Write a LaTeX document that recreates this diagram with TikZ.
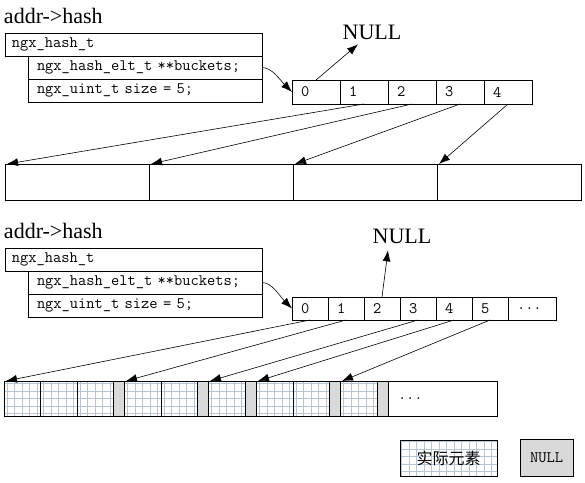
\documentclass[tikz,border=0pt]{standalone}
\usepackage{fontspec}
\setmainfont{Liberation Serif}
\newfontfamily\cjk{Noto Sans CJK SC}
\usetikzlibrary{arrows.meta}
\definecolor{gridblue}{RGB}{184,196,216}
\definecolor{nullgrey}{RGB}{217,217,217}
\begin{document}
\begin{tikzpicture}[x=1pt,y=-1pt,
  every node/.style={inner sep=0pt,outer sep=0pt},
  ttl/.style={font=\fontsize{22}{24}\selectfont,anchor=base west},
  nulltxt/.style={font=\fontsize{22}{24}\selectfont},
  mono/.style={font=\ttfamily\fontsize{16}{18}\selectfont},
  codebox/.style={mono,draw,line width=0.8pt,anchor=north west,minimum height=23pt,align=left},
  arrcell/.style={mono,draw,line width=0.8pt,anchor=north west,inner xsep=9pt,align=left},
  bigbox/.style={draw,line width=0.8pt,anchor=north west,minimum width=144pt,minimum height=36pt},
  gcell/.style={draw,line width=0.8pt,anchor=north west,minimum height=35pt,
    path picture={\draw[gridblue,line width=0.7pt] (path picture bounding box.south west) grid[step=7.5pt] (path picture bounding box.north east);}},
  ncell/.style={draw,line width=0.8pt,anchor=north west,minimum height=35pt,fill=nullgrey,minimum width=11pt},
  arr/.style={-{Latex[length=11pt,width=8pt]},line width=0.6pt}
]
\fill[white] (0,0) rectangle (585,482);
\useasboundingbox (0,0) rectangle (585,482);

% ---------- top section ----------
\node[ttl] (t1) at (4,23) {addr->hash};
\node[codebox,text width=243pt,inner xsep=7pt] (h1) at (5,33) {ngx\_hash\_t};
\node[codebox,text width=216pt,inner xsep=9pt] (bk1) at (28,56) {ngx\_hash\_elt\_t **buckets;};
\node[codebox,text width=216pt,inner xsep=9pt] (sz1) at (28,79) {ngx\_uint\_t size = 5;};

\node[arrcell,text width=30pt,minimum height=24pt] (a0) at (292,80) {0};
\node[arrcell,text width=30pt,minimum height=24pt] (a1) at (a0.north east) {1};
\node[arrcell,text width=30pt,minimum height=24pt] (a2) at (a1.north east) {2};
\node[arrcell,text width=30pt,minimum height=24pt] (a3) at (a2.north east) {3};
\node[arrcell,text width=30pt,minimum height=24pt] (a4) at (a3.north east) {4};

\node[nulltxt] (n1) at (372,32) {NULL};

\node[bigbox] (c0) at (5,164) {};
\node[bigbox] (c1) at (c0.north east) {};
\node[bigbox] (c2) at (c1.north east) {};
\node[bigbox] (c3) at (c2.north east) {};

\draw[arr] (bk1.east) .. controls +(10,0) and +(-12,-12) .. (a0.west);
\draw[arr] (a0.north) -- ([xshift=-14pt,yshift=-5pt]n1.south);
\draw[arr] (a1.south) -- ([xshift=2pt]c0.north west);
\draw[arr] (a2.south) -- ([xshift=2pt]c1.north west);
\draw[arr] (a3.south) -- ([xshift=2pt]c2.north west);
\draw[arr] (a4.south) -- ([xshift=2pt]c3.north west);

% ---------- bottom section ----------
\node[ttl] (t2) at (4,238) {addr->hash};
\node[codebox,text width=243pt,inner xsep=7pt] (h2) at (5,248) {ngx\_hash\_t};
\node[codebox,text width=216pt,inner xsep=9pt] (bk2) at (28,271) {ngx\_hash\_elt\_t **buckets;};
\node[codebox,text width=216pt,inner xsep=9pt] (sz2) at (28,294) {ngx\_uint\_t size = 5;};

\node[arrcell,text width=18pt,minimum height=23pt] (b0) at (292,297) {0};
\node[arrcell,text width=18pt,minimum height=23pt] (b1) at (b0.north east) {1};
\node[arrcell,text width=18pt,minimum height=23pt] (b2) at (b1.north east) {2};
\node[arrcell,text width=18pt,minimum height=23pt] (b3) at (b2.north east) {3};
\node[arrcell,text width=18pt,minimum height=23pt] (b4) at (b3.north east) {4};
\node[arrcell,text width=18pt,minimum height=23pt] (b5) at (b4.north east) {5};
\node[arrcell,text width=30pt,minimum height=23pt] (b6) at (b5.north east) {...};

\node[nulltxt] (n2) at (402,236) {NULL};

\node[gcell,minimum width=36pt] (g0) at (4,381) {};
\node[gcell,minimum width=37pt] (g1) at (40,381) {};
\node[gcell,minimum width=36pt] (g2) at (77,381) {};
\node[ncell] (g3) at (113,381) {};
\node[gcell,minimum width=37pt] (g4) at (124,381) {};
\node[gcell,minimum width=36pt] (g5) at (161,381) {};
\node[ncell] (g6) at (197,381) {};
\node[gcell,minimum width=37pt] (g7) at (208,381) {};
\node[ncell] (g8) at (245,381) {};
\node[gcell,minimum width=37pt] (g9) at (256,381) {};
\node[gcell,minimum width=36pt] (g10) at (293,381) {};
\node[ncell] (g11) at (329,381) {};
\node[gcell,minimum width=37pt] (g12) at (340,381) {};
\node[ncell] (g13) at (377,381) {};
\node[arrcell,minimum height=35pt,text width=89pt,inner xsep=10pt] (g14) at (388,381) {...};

\draw[arr] (bk2.east) .. controls +(10,0) and +(-12,-12) .. (b0.west);
\draw[arr] (b2.north) -- ([xshift=-14pt,yshift=-7pt]n2.south);
\draw[arr] (b0.south) -- ([xshift=2pt]g0.north west);
\draw[arr] (b1.south) -- ([xshift=2pt]g4.north west);
\draw[arr] (b3.south) -- ([xshift=2pt]g7.north west);
\draw[arr] (b4.south) -- ([xshift=2pt]g9.north west);
\draw[arr] (b5.south) -- ([xshift=2pt]g12.north west);

% ---------- legend ----------
\node[gcell,minimum width=97pt,minimum height=36pt,font=\cjk\fontsize{16}{18}\selectfont] (lg1) at (400,440) {实际元素};
\node[ncell,minimum width=53pt,minimum height=37pt,mono] (lg2) at (520,439) {NULL};
\end{tikzpicture}
\end{document}
